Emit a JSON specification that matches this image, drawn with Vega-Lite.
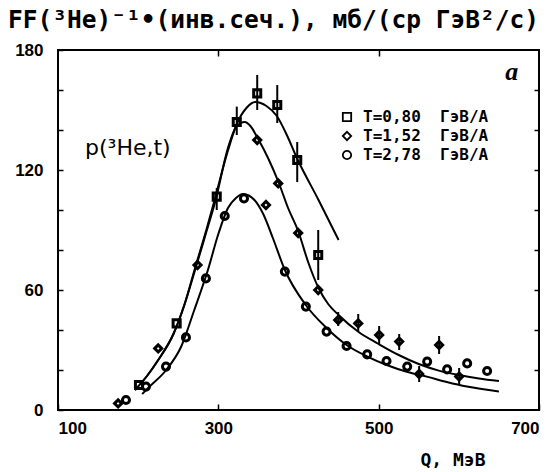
{
  "$schema": "https://vega.github.io/schema/vega-lite/v6.json",
  "width": 481,
  "height": 360,
  "autosize": {"type": "none"},
  "padding": {"left": 58, "top": 50, "right": 14, "bottom": 62},
  "background": "white",
  "config": {"view": {"stroke": "black", "strokeWidth": 2}, "axis": {"grid": false, "domain": false}},
  "title": {
    "text": "FF(³He)⁻¹•(инв.сеч.), мб/(ср ГэВ²/с)",
    "anchor": "start",
    "frame": "group",
    "font": "DejaVu Sans Mono",
    "fontSize": 24.5,
    "fontWeight": "bold",
    "color": "black",
    "dx": -50,
    "offset": 8
  },
  "layer": [
    {
      "data": {"values": [
        {"s": "0,80", "Q": 196, "v": 10}, {"s": "0,80", "Q": 211, "v": 17}, {"s": "0,80", "Q": 225, "v": 25}, {"s": "0,80", "Q": 244, "v": 38}, {"s": "0,80", "Q": 258, "v": 53}, {"s": "0,80", "Q": 271, "v": 71}, {"s": "0,80", "Q": 285, "v": 90}, {"s": "0,80", "Q": 296, "v": 106}, {"s": "0,80", "Q": 310, "v": 127}, {"s": "0,80", "Q": 323, "v": 143}, {"s": "0,80", "Q": 335, "v": 151}, {"s": "0,80", "Q": 346, "v": 154}, {"s": "0,80", "Q": 360, "v": 152}, {"s": "0,80", "Q": 373, "v": 147}, {"s": "0,80", "Q": 386, "v": 137}, {"s": "0,80", "Q": 398, "v": 126}, {"s": "0,80", "Q": 425, "v": 105}, {"s": "0,80", "Q": 450, "v": 85},
        {"s": "1,52", "Q": 196, "v": 10}, {"s": "1,52", "Q": 211, "v": 17}, {"s": "1,52", "Q": 225, "v": 25}, {"s": "1,52", "Q": 244, "v": 38}, {"s": "1,52", "Q": 258, "v": 53}, {"s": "1,52", "Q": 271, "v": 70}, {"s": "1,52", "Q": 285, "v": 89}, {"s": "1,52", "Q": 296, "v": 104}, {"s": "1,52", "Q": 312, "v": 131}, {"s": "1,52", "Q": 323, "v": 142}, {"s": "1,52", "Q": 333, "v": 144}, {"s": "1,52", "Q": 340, "v": 142}, {"s": "1,52", "Q": 349, "v": 136}, {"s": "1,52", "Q": 362, "v": 126}, {"s": "1,52", "Q": 375, "v": 114}, {"s": "1,52", "Q": 387, "v": 101}, {"s": "1,52", "Q": 400, "v": 89}, {"s": "1,52", "Q": 412, "v": 74}, {"s": "1,52", "Q": 425, "v": 61}, {"s": "1,52", "Q": 437, "v": 53}, {"s": "1,52", "Q": 450, "v": 47.5}, {"s": "1,52", "Q": 475, "v": 39}, {"s": "1,52", "Q": 500, "v": 33}, {"s": "1,52", "Q": 525, "v": 27.5}, {"s": "1,52", "Q": 550, "v": 23}, {"s": "1,52", "Q": 575, "v": 19.7}, {"s": "1,52", "Q": 600, "v": 17.5}, {"s": "1,52", "Q": 625, "v": 15.8}, {"s": "1,52", "Q": 650, "v": 14.5},
        {"s": "2,78", "Q": 205, "v": 8}, {"s": "2,78", "Q": 215, "v": 12}, {"s": "2,78", "Q": 235, "v": 20}, {"s": "2,78", "Q": 254, "v": 32}, {"s": "2,78", "Q": 270, "v": 50}, {"s": "2,78", "Q": 287, "v": 70}, {"s": "2,78", "Q": 300, "v": 88}, {"s": "2,78", "Q": 312, "v": 101}, {"s": "2,78", "Q": 322, "v": 106}, {"s": "2,78", "Q": 331, "v": 108}, {"s": "2,78", "Q": 345, "v": 105}, {"s": "2,78", "Q": 356, "v": 98}, {"s": "2,78", "Q": 368, "v": 86}, {"s": "2,78", "Q": 383, "v": 70}, {"s": "2,78", "Q": 409, "v": 52.5}, {"s": "2,78", "Q": 435, "v": 41}, {"s": "2,78", "Q": 460, "v": 32.5}, {"s": "2,78", "Q": 486, "v": 26.7}, {"s": "2,78", "Q": 510, "v": 22.5}, {"s": "2,78", "Q": 536, "v": 19}, {"s": "2,78", "Q": 560, "v": 16.7}, {"s": "2,78", "Q": 585, "v": 14}, {"s": "2,78", "Q": 610, "v": 11.7}, {"s": "2,78", "Q": 650, "v": 9.2}
      ]},
      "mark": {"type": "line", "color": "black", "strokeWidth": 2, "interpolate": "monotone"},
      "encoding": {
        "x": {"field": "Q", "type": "quantitative", "scale": {"domain": [100, 700], "nice": false, "zero": false},
          "axis": {"orient": "bottom", "values": [100, 300, 500, 700], "tickSize": -6, "tickColor": "black", "tickWidth": 1.5, "labelPadding": 16, "labelFont": "Liberation Sans", "labelFontWeight": "bold", "labelFontSize": 17, "labelColor": "black",
            "title": "Q, МэВ", "titleFont": "DejaVu Sans Mono", "titleFontSize": 18, "titleFontWeight": "bold", "titleColor": "black", "titleAlign": "left", "titleBaseline": "alphabetic", "titleX": 362, "titleY": 55}},
        "y": {"field": "v", "type": "quantitative", "scale": {"domain": [0, 180], "nice": false, "zero": true},
          "axis": {"orient": "left", "values": [0, 20, 40, 60, 80, 100, 120, 140, 160, 180], "labelExpr": "datum.value % 60 == 0 ? datum.label : ''", "tickSize": -5, "tickColor": "black", "tickWidth": 1.5, "labelPadding": 20, "labelFont": "Liberation Sans", "labelFontWeight": "bold", "labelFontSize": 17, "labelColor": "black", "title": null}},
        "detail": {"field": "s"}
      }
    },
    {
      "data": {"values": [
        {"Q": 298, "lo": 100, "hi": 111}, {"Q": 323, "lo": 137.5, "hi": 151.7}, {"Q": 348.5, "lo": 150, "hi": 167.5}, {"Q": 373.5, "lo": 143.5, "hi": 162.5}, {"Q": 398.4, "lo": 114, "hi": 134}, {"Q": 424.6, "lo": 65, "hi": 90},
        {"Q": 449.5, "lo": 42, "hi": 49}, {"Q": 474.5, "lo": 39, "hi": 48}, {"Q": 500.6, "lo": 33, "hi": 42}, {"Q": 525.6, "lo": 30, "hi": 38}, {"Q": 550.5, "lo": 14, "hi": 22}, {"Q": 575.4, "lo": 28, "hi": 37}, {"Q": 600.4, "lo": 13, "hi": 21}
      ]},
      "mark": {"type": "rule", "color": "black", "strokeWidth": 2},
      "encoding": {
        "x": {"field": "Q", "type": "quantitative", "scale": {"domain": [100, 700], "nice": false, "zero": false},
          "axis": {"orient": "top", "values": [300, 500], "tickSize": -6, "tickColor": "black", "tickWidth": 1.5, "labels": false, "title": null}},
        "y": {"field": "lo", "type": "quantitative", "scale": {"domain": [0, 180], "nice": false, "zero": true},
          "axis": {"orient": "right", "values": [20, 40, 60, 80, 100, 120, 140, 160], "tickSize": -5, "tickColor": "black", "tickWidth": 1.5, "labels": false, "title": null}},
        "y2": {"field": "hi"}
      }
    },
    {
      "data": {"values": [
        {"s": "0,80", "Q": 201, "v": 12.5}, {"s": "0,80", "Q": 248, "v": 43.3}, {"s": "0,80", "Q": 298, "v": 106.7}, {"s": "0,80", "Q": 323, "v": 144}, {"s": "0,80", "Q": 348.5, "v": 158.3}, {"s": "0,80", "Q": 373.5, "v": 152.5}, {"s": "0,80", "Q": 398.4, "v": 125}, {"s": "0,80", "Q": 424.6, "v": 77.5},
        {"s": "1,52", "Q": 175, "v": 3.3}, {"s": "1,52", "Q": 225, "v": 30.8}, {"s": "1,52", "Q": 274, "v": 72.5}, {"s": "1,52", "Q": 348.5, "v": 135}, {"s": "1,52", "Q": 359.4, "v": 102.5}, {"s": "1,52", "Q": 374.7, "v": 113.3}, {"s": "1,52", "Q": 399.6, "v": 88.5}, {"s": "1,52", "Q": 424.6, "v": 60}, {"s": "1,52", "Q": 449.5, "v": 45}, {"s": "1,52", "Q": 474.5, "v": 43.3}, {"s": "1,52", "Q": 500.6, "v": 37.5}, {"s": "1,52", "Q": 525.6, "v": 34.2}, {"s": "1,52", "Q": 550.5, "v": 18}, {"s": "1,52", "Q": 575.4, "v": 32.5}, {"s": "1,52", "Q": 600.4, "v": 16.7},
        {"s": "2,78", "Q": 184.8, "v": 5}, {"s": "2,78", "Q": 209.7, "v": 11.7}, {"s": "2,78", "Q": 234.7, "v": 21.7}, {"s": "2,78", "Q": 259.6, "v": 36.3}, {"s": "2,78", "Q": 284.5, "v": 65.8}, {"s": "2,78", "Q": 308, "v": 97}, {"s": "2,78", "Q": 332, "v": 105.8}, {"s": "2,78", "Q": 383, "v": 69.2}, {"s": "2,78", "Q": 409.2, "v": 51.7}, {"s": "2,78", "Q": 435, "v": 39.2}, {"s": "2,78", "Q": 460, "v": 32}, {"s": "2,78", "Q": 485.7, "v": 27.8}, {"s": "2,78", "Q": 509.8, "v": 24.5}, {"s": "2,78", "Q": 535.6, "v": 21.7}, {"s": "2,78", "Q": 560.5, "v": 24.2}, {"s": "2,78", "Q": 585.4, "v": 20.3}, {"s": "2,78", "Q": 610.4, "v": 23.3}, {"s": "2,78", "Q": 635.3, "v": 19.5}
      ]},
      "mark": {"type": "point", "filled": false, "color": "black", "strokeWidth": 3, "size": 50, "opacity": 1},
      "encoding": {
        "x": {"field": "Q", "type": "quantitative", "scale": {"domain": [100, 700], "nice": false, "zero": false}, "axis": null},
        "y": {"field": "v", "type": "quantitative", "scale": {"domain": [0, 180], "nice": false, "zero": true}, "axis": null},
        "shape": {"field": "s", "type": "nominal",
          "scale": {"domain": ["0,80", "1,52", "2,78"], "range": ["square", "diamond", "circle"]},
          "legend": {"orient": "none", "legendX": 281, "legendY": 59, "title": null, "padding": 0, "rowPadding": 3, "symbolStrokeWidth": 1.8, "symbolStrokeColor": "black", "symbolFillColor": "white", "symbolSize": 70, "symbolOffset": 0, "labelOffset": 8,
            "labelFont": "DejaVu Sans Mono", "labelFontSize": 16, "labelFontWeight": "bold", "labelColor": "black", "labelLimit": 300,
            "labelExpr": "'T=' + datum.label + '\u00a0 ГэВ/А'"}}
      }
    },
    {
      "data": {"values": [
        {"Q": 133.7, "v": 127.5, "t": "p(³He,t)"}
      ]},
      "mark": {"type": "text", "align": "left", "baseline": "alphabetic", "font": "DejaVu Sans", "fontSize": 22, "color": "black"},
      "encoding": {
        "x": {"field": "Q", "type": "quantitative", "scale": {"domain": [100, 700], "nice": false, "zero": false}, "axis": null},
        "y": {"field": "v", "type": "quantitative", "scale": {"domain": [0, 180], "nice": false, "zero": true}, "axis": null},
        "text": {"field": "t"}
      }
    },
    {
      "data": {"values": [
        {"Q": 658, "v": 165, "t": "a"}
      ]},
      "mark": {"type": "text", "align": "left", "baseline": "alphabetic", "font": "Liberation Serif", "fontSize": 26, "fontStyle": "italic", "fontWeight": "bold", "color": "black"},
      "encoding": {
        "x": {"field": "Q", "type": "quantitative", "scale": {"domain": [100, 700], "nice": false, "zero": false}, "axis": null},
        "y": {"field": "v", "type": "quantitative", "scale": {"domain": [0, 180], "nice": false, "zero": true}, "axis": null},
        "text": {"field": "t"}
      }
    }
  ],
  "resolve": {"axis": {"x": "independent", "y": "independent"}}
}
